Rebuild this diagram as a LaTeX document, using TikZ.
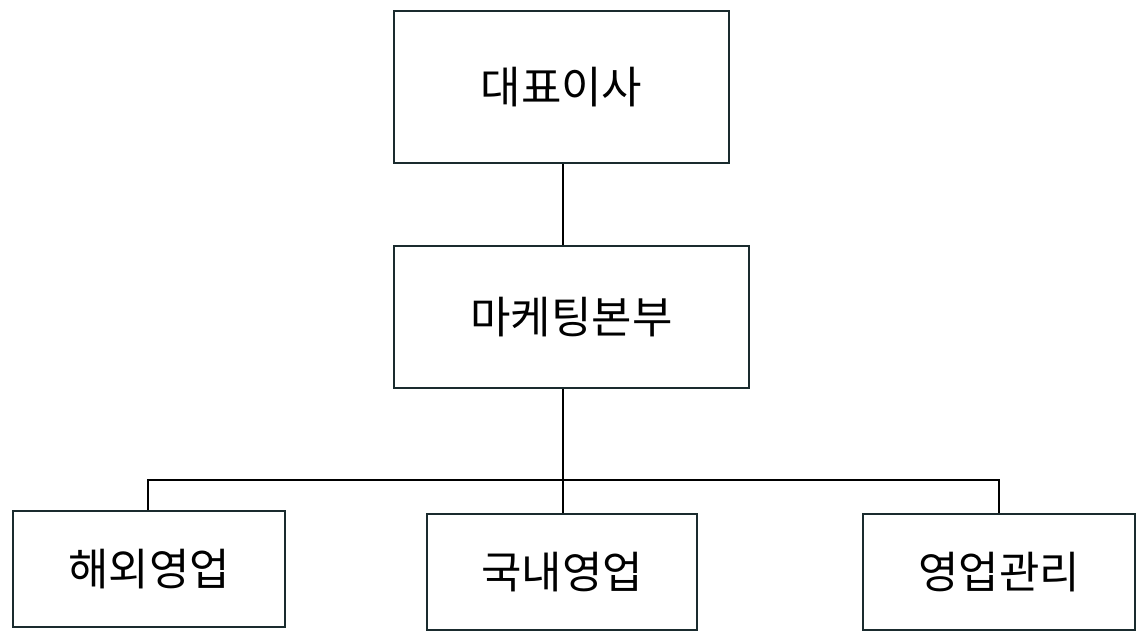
\documentclass[tikz,border=0pt]{standalone}
\usepackage{fontspec}
\newfontfamily\cjk{Noto Sans CJK KR}
\definecolor{edge}{HTML}{1A2B2E}
\tikzset{unit/.style={draw=edge,line width=1.2pt,inner sep=0pt,font=\cjk\fontsize{25}{30}\selectfont}}

\begin{document}
\begin{tikzpicture}[x=0.02cm,y=-0.02cm]
      \useasboundingbox (0,0) rectangle (1147,641);
      \node[unit,minimum width=335*0.02cm,minimum height=152*0.02cm](ceo) at (561.5,87) {대표이사};
      \node[unit,minimum width=355*0.02cm,minimum height=142*0.02cm](mkt) at (571.5,317) {마케팅본부};
      \node[unit,minimum width=272*0.02cm,minimum height=116*0.02cm](ovs) at (149,569) {해외영업};
      \node[unit,minimum width=270*0.02cm,minimum height=116*0.02cm](dom) at (562,572) {국내영업};
      \node[unit,minimum width=272*0.02cm,minimum height=116*0.02cm](mgt) at (999,572) {영업관리};

      \coordinate (bl) at (148,480);
      \coordinate (br) at (999,480);
      \draw[line width=1.2pt] (ceo.south -| 563,0) -- (mkt.north -| 563,0);
      \draw[line width=1.2pt] (mkt.south -| 563,0) -- (dom.north -| 563,0);
      \draw[line width=1.2pt] (ovs.north -| bl) -- (bl) -- (br) -- (mgt.north -| br);
    \end{tikzpicture}
\end{document}
